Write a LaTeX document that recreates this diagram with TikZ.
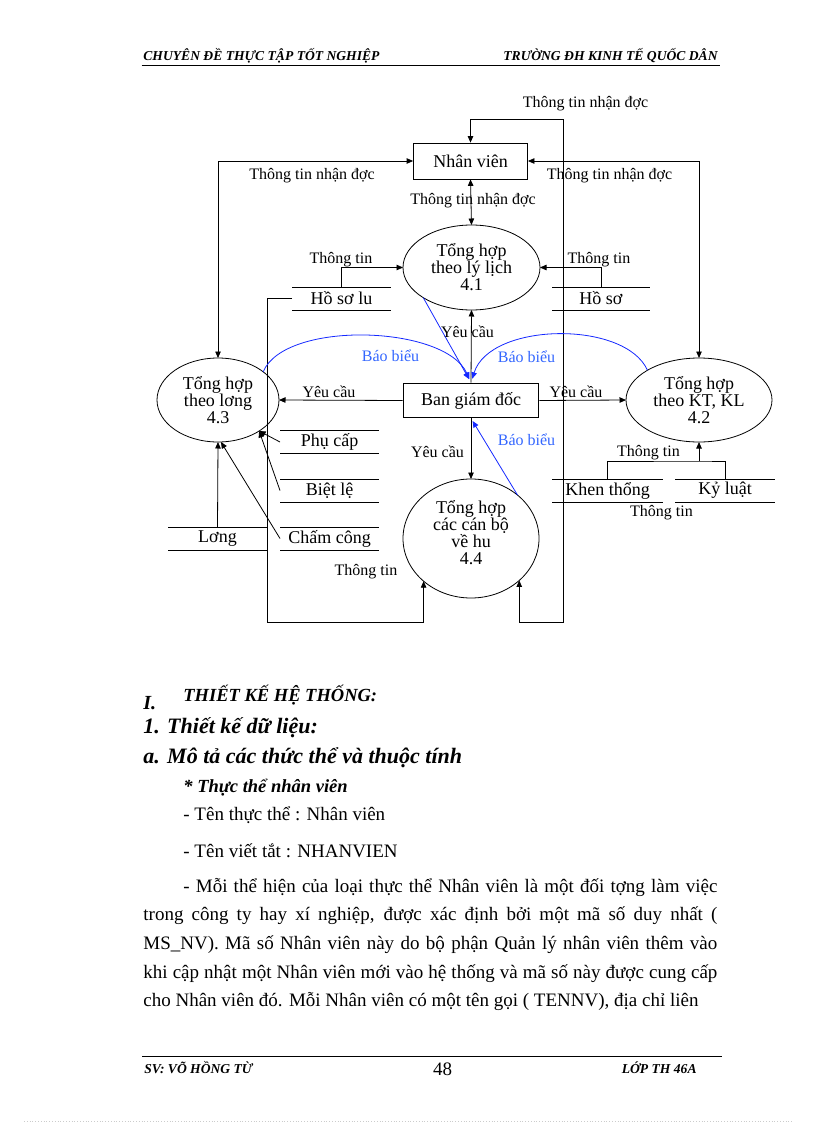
\documentclass[tikz,border=0pt]{standalone}
\usepackage{fontspec}
\setmainfont{Liberation Serif}
\usetikzlibrary{arrows.meta,shapes.geometric}
\definecolor{lblblue}{RGB}{51,102,255}
\definecolor{arcblue}{RGB}{20,40,255}
\newcommand\dgSmall{\fontsize{16}{16}\selectfont}
\newcommand\dgMid{\fontsize{18}{17}\selectfont}
\newcommand\dgBody{\fontsize{19}{19}\selectfont}
\newcommand\dgHead{\fontsize{13.6}{14}\selectfont\bfseries\itshape}
\begin{document}
\begin{tikzpicture}[x=1pt,y=-1pt,
  line width=0.8pt,
  tip/.style={-{Triangle[length=6.5pt,width=5.5pt]}},
  tips/.style={{Triangle[length=6.5pt,width=5.5pt]}-{Triangle[length=6.5pt,width=5.5pt]}},
  lab/.style={font=\dgSmall, inner sep=0pt},
  blab/.style={lab, text=lblblue},
  proc/.style={ellipse, draw, inner sep=0pt, outer sep=0pt, align=center, font=\dgMid},
  store/.style={inner sep=0pt, outer sep=0pt, minimum height=23pt, font=\dgMid},
  txt/.style={anchor=base west, inner sep=0pt, font=\dgBody},
  hd/.style={anchor=base west, inner sep=0pt, font=\dgHead},
  bhead/.style={anchor=base west, inner sep=0pt, font=\fontsize{#1}{#1}\selectfont\bfseries\itshape}
]
\useasboundingbox (0,0) rectangle (816,1123);

% header / footer
\node[hd] (h1) at (143,61) {CHUYÊN ĐỀ THỰC TẬP TỐT NGHIỆP};
\node[hd, anchor=base east] (h2) at (718,61) {TRƯỜNG ĐH KINH TẾ QUỐC DÂN};
\draw[line width=1.2pt] (141.5,65.5) -- (719.5,65.5);
\draw[line width=1.2pt] (142,1056.5) -- (722,1056.5);
\node[hd] (f1) at (144,1073) {SV: VÕ HỒNG TỪ};
\node[anchor=base, font=\fontsize{19}{19}\selectfont, inner sep=0pt] (f2) at (442.5,1075) {48};
\node[hd, anchor=base east] (f3) at (697,1073) {LỚP TH 46A};
\draw[gray!40, dotted] (24,1121.5) -- (792,1121.5);

% processes
\node[draw, minimum width=114pt, minimum height=36pt, inner sep=0pt, font=\dgMid] (nv) at (470.5,161) {Nhân viên};
\node[proc, minimum width=137pt, minimum height=85pt] (e41) at (471.5,267.5) {Tổng hợp\\theo lý lịch\\4.1};
\node[proc, minimum width=122pt, minimum height=84pt] (e43) at (218,400) {Tổng hợp\\theo lơng\\4.3};
\node[proc, minimum width=146pt, minimum height=84pt] (e42) at (699,400) {Tổng hợp\\theo KT, KL\\4.2};
\node[proc, minimum width=136pt, minimum height=119pt] (e44) at (471,538.5) {};
\node[font=\dgMid, align=center, inner sep=0pt] (e44t) at (471,533) {Tổng hợp\\các cán bộ\\về hu\\4.4};
\node[draw, line width=1.8pt, minimum width=135pt, minimum height=34pt, inner sep=0pt, font=\dgMid] (bgd) at (471,400.5) {Ban giám đốc};

% stores
\node[store, minimum width=99pt] (hsl) at (341.5,298.5) {Hồ sơ lu};
\node[store, minimum width=98pt] (hs) at (601,298.5) {Hồ sơ};
\node[store, minimum width=99pt] (pc) at (329.5,442) {Phụ cấp};
\node[store, minimum width=99pt] (bl) at (329.5,490.5) {Biệt lệ};
\node[store, minimum width=99pt] (cc) at (329.5,538.5) {Chấm công};
\node[store, minimum width=99pt] (lg) at (217.5,538.5) {Lơng};
\node[store, minimum width=111pt] (kt) at (607.5,490.5) {Khen thổng};
\node[store, minimum width=100pt] (kl) at (725,490.5) {Kỷ luật};
\foreach \s in {hsl,hs,pc,bl,cc,lg,kt,kl}{
  \draw (\s.north west) -- (\s.north east) (\s.south west) -- (\s.south east);
}

% connectors
\coordinate (tl) at (563,119);
\coordinate (br) at (563,622);
\coordinate (bll) at (267,622);
\coordinate (kj) at (699,461);
\draw[tips] (nv.south) -- (e41.north);
\draw[tips] (nv.west) -| (e43.north);
\draw[tips] (nv.east) -| (e42.north);
\draw[tips] (e44.-41.5) |- (br) -- (tl) -| (nv.north);
\draw[tip] (hsl.west) -| (bll) -| (e44.-138.5);
\draw[tip] (hsl.north) |- (e41.west);
\draw[tip] (hs.north) |- (e41.east);
\draw[tip] (bgd.north) -- (e41.south);
\draw[tip] (bgd.west) -- (e43.east);
\draw[tip] (bgd.east) -- (e42.west);
\draw[tip] (bgd.south) -- (e44.north);
\draw[tip] (lg.north) -- (e43.south);
\draw[tip] (cc.west) -- (e43.-86);
\draw[tip] (pc.west) -- (e43.-37);
\draw[tip] (bl.west) -- (e43.-37);
\draw (kt.north) |- (kj) -| (kl.north);
\draw[tip] (kj) -- (e42.south);

% blue report flows
\draw[arcblue, tip, shorten >=4pt] (e41.212) -- (bgd.north);
\draw[arcblue, tip, shorten >=4pt] (e43.32.5) .. controls (285,320) and (445,325) .. (bgd.north);
\draw[arcblue, tip, shorten >=4pt] (e42.150) .. controls (625,320) and (490,322) .. (bgd.north);
\draw[arcblue, tip, shorten >=3pt] (e44.43) -- (bgd.south);

% labels
\node[lab] (l1) at (585.5,104) {Thông tin nhận đợc};
\node[lab] (l2) at (312,176) {Thông tin nhận đợc};
\node[lab] (l3) at (609.5,176) {Thông tin nhận đợc};
\node[lab] (l4) at (473,201) {Thông tin nhận đợc};
\node[lab] (l5) at (341,260) {Thông tin};
\node[lab] (l6) at (599,260) {Thông tin};
\node[lab] (l7) at (467.5,332) {Yêu cầu};
\node[lab] (l8) at (329,392) {Yêu cầu};
\node[lab] (l9) at (576,392) {Yêu cầu};
\node[lab] (l10) at (437.5,452) {Yêu cầu};
\node[blab] (b1) at (390.5,356) {Báo biểu};
\node[blab] (b2) at (526.5,357) {Báo biểu};
\node[blab] (b3) at (526.5,440) {Báo biểu};
\node[lab] (l11) at (648.5,453) {Thông tin};
\node[lab] (l12) at (661.5,513) {Thông tin};
\node[lab] (l13) at (366,572) {Thông tin};

% text section
\node[bhead=20] (t1) at (143,709) {I.};
\node[bhead=18.5] (t2) at (183,701) {THIẾT KẾ HỆ THỐNG:};
\node[bhead=22] (t3) at (143,733) {1. Thiết kế dữ liệu:};
\node[bhead=22] (t4) at (143,763) {a. Mô tả các thức thể và thuộc tính};
\node[bhead=18.5] (t5) at (183,792) {* Thực thể nhân viên};
\node[txt] (p1) at (183,820.5) {- Tên thực thể : Nhân viên};
\node[txt] (p2) at (183,857) {- Tên viết tắt : NHANVIEN};
\node[txt] (q1) at (183,892) {\makebox[534pt][s]{- Mỗi thể hiện của loại thực thể Nhân viên là một đối tợng làm việc}};
\node[txt] (q2) at (143,920.7) {\makebox[574pt][s]{trong công ty hay xí nghiệp, được xác định bởi một mã số duy nhất (}};
\node[txt] (q3) at (143,949.4) {\makebox[574pt][s]{MS\_NV). Mã số Nhân viên này do bộ phận Quản lý nhân viên thêm vào}};
\node[txt] (q4) at (143,978.1) {\makebox[574pt][s]{khi cập nhật một Nhân viên mới vào hệ thống và mã số này được cung cấp}};
\node[txt] (q5) at (143,1006.8) {cho Nhân viên đó. Mỗi Nhân viên có một tên gọi ( TENNV), địa chỉ liên};
\end{tikzpicture}
\end{document}
